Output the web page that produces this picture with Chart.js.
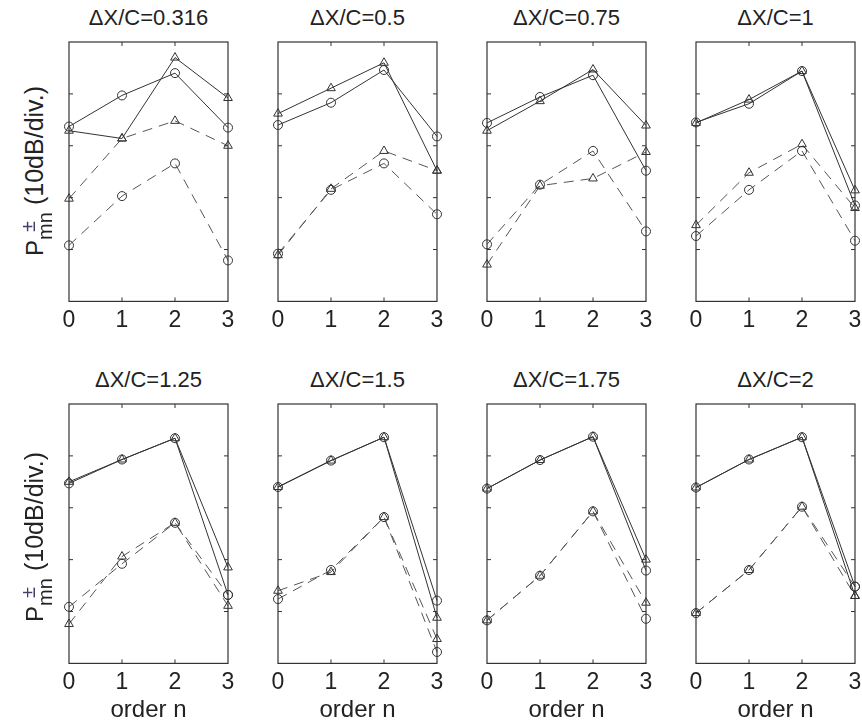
<!DOCTYPE html>
<html>
<head>
<meta charset="utf-8">
<script src="https://cdn.jsdelivr.net/npm/chart.js@4/dist/chart.umd.min.js"></script>
<style>
    body { margin: 0; background: #fff; font-family: "Liberation Sans", Arial, sans-serif; color: #222; }
    #wrap { position: relative; width: 862px; height: 726px; overflow: hidden; }
    canvas { position: absolute; }
    .ttl { position: absolute; width: 200px; text-align: center; font-size: 22px; line-height: 22px; }
    .xl { position: absolute; width: 160px; text-align: center; font-size: 24px; line-height: 24px; }
    .yl { position: absolute; width: 240px; height: 30px; text-align: center; font-size: 25px; line-height: 30px;
          transform: rotate(-90deg); transform-origin: center center; white-space: nowrap; }
    .yl .p { font-size: 24px; }
    .pm { position: relative; display: inline-block; width: 27px; height: 18px; margin-right: 8px; font-size: 20px; line-height: 20px; }
    .pm span { position: absolute; left: 0; right: 0; text-align: center; }
    .pm .pl { top: -7px; color: #4a3a6a; }
    .pm .mn { top: 10px; }
</style>
</head>
<body>
<div id="wrap"></div>

<script>
    var titles = ["\u0394X/C=0.316", "\u0394X/C=0.5", "\u0394X/C=0.75", "\u0394X/C=1",
                  "\u0394X/C=1.25", "\u0394X/C=1.5", "\u0394X/C=1.75", "\u0394X/C=2"];
    var orders = [0, 1, 2, 3];

    // levels in divisions (10 dB each), one row per panel
    var solidCircle = [
        [3.37, 3.97, 4.40, 3.35],
        [3.40, 3.83, 4.46, 3.18],
        [3.44, 3.94, 4.36, 2.52],
        [3.45, 3.81, 4.44, 1.85],
        [3.47, 3.93, 4.34, 1.32],
        [3.40, 3.91, 4.36, 1.21],
        [3.37, 3.92, 4.37, 1.79],
        [3.39, 3.93, 4.36, 1.48]
    ];
    var solidTriangle = [
        [3.29, 3.14, 4.70, 3.92],
        [3.62, 4.11, 4.60, 2.52],
        [3.29, 3.86, 4.47, 3.39],
        [3.44, 3.89, 4.44, 2.14],
        [3.50, 3.93, 4.34, 1.85],
        [3.40, 3.91, 4.36, 0.88],
        [3.37, 3.92, 4.37, 2.00],
        [3.39, 3.93, 4.36, 1.30]
    ];
    var dashedCircle = [
        [1.08, 2.03, 2.66, 0.79],
        [0.92, 2.15, 2.66, 1.68],
        [1.10, 2.25, 2.90, 1.35],
        [1.26, 2.15, 2.90, 1.17],
        [1.09, 1.92, 2.71, 1.32],
        [1.24, 1.80, 2.82, 0.22],
        [0.83, 1.69, 2.93, 0.86],
        [0.97, 1.80, 3.02, 1.48]
    ];
    var dashedTriangle = [
        [1.98, 3.14, 3.48, 3.00],
        [0.89, 2.17, 2.90, 2.52],
        [0.71, 2.23, 2.37, 2.88],
        [1.47, 2.48, 3.03, 1.80],
        [0.76, 2.06, 2.71, 1.11],
        [1.40, 1.76, 2.82, 0.47],
        [0.83, 1.69, 2.93, 1.17],
        [0.97, 1.80, 3.02, 1.30]
    ];
    var yTicks = [1, 2, 3, 4];

    var boxLeft = [69, 278, 487, 696];
    var boxTop = [42, 404];
    var boxW = 159, boxH = 257;
    var padL = 14, padT = 10, axisH = 40;

    var wrap = document.getElementById('wrap');

    // frame plus inward ticks, MATLAB style
    var framePlugin = {
        id: 'frame',
        afterDraw: function (chart) {
            var ctx = chart.ctx, a = chart.chartArea;
            var xs = chart.scales.x, ys = chart.scales.y;
            ctx.save();
            ctx.strokeStyle = '#333';
            ctx.lineWidth = 1.2;
            ctx.strokeRect(a.left, a.top, a.right - a.left, a.bottom - a.top);
            ctx.lineWidth = 1;
            ctx.beginPath();
            yTicks.forEach(function (v) {
                var py = ys.getPixelForValue(v);
                ctx.moveTo(a.left, py); ctx.lineTo(a.left + 4, py);
                ctx.moveTo(a.right, py); ctx.lineTo(a.right - 4, py);
            });
            orders.slice(1, 3).forEach(function (v) {
                var px = xs.getPixelForValue(v);
                ctx.moveTo(px, a.top); ctx.lineTo(px, a.top + 4);
                ctx.moveTo(px, a.bottom); ctx.lineTo(px, a.bottom - 4);
            });
            ctx.stroke();
            ctx.restore();
        }
    };

    function series(vals, style, dashed) {
        return {
            data: vals.map(function (v, i) { return {x: orders[i], y: v}; }),
            borderColor: dashed ? '#555' : '#333',
            borderWidth: 1,
            borderDash: dashed ? [10, 7] : [],
            pointStyle: style,
            pointRadius: style === 'triangle' ? 5 : 4.5,
            pointBorderColor: '#333',
            pointBorderWidth: 1,
            pointBackgroundColor: 'rgba(0,0,0,0)',
            tension: 0,
            clip: false
        };
    }

    function addText(cls, html, left, top) {
        var d = document.createElement('div');
        d.className = cls;
        d.innerHTML = html;
        d.style.left = left + 'px';
        d.style.top = top + 'px';
        wrap.appendChild(d);
    }

    for (var p = 0; p < 8; p++) {
        var row = Math.floor(p / 4), col = p % 4;
        var cv = document.createElement('canvas');
        cv.width = boxW + 2 * padL;
        cv.height = padT + boxH + axisH;
        cv.style.left = (boxLeft[col] - padL) + 'px';
        cv.style.top = (boxTop[row] - padT) + 'px';
        wrap.appendChild(cv);

        new Chart(cv, {
            type: 'line',
            data: {
                datasets: [
                    series(solidCircle[p], 'circle', false),
                    series(solidTriangle[p], 'triangle', false),
                    series(dashedCircle[p], 'circle', true),
                    series(dashedTriangle[p], 'triangle', true)
                ]
            },
            options: {
                responsive: false,
                animation: false,
                layout: {padding: {left: padL, right: padL, top: padT, bottom: 0}},
                plugins: {legend: {display: false}, tooltip: {enabled: false}},
                scales: {
                    x: {
                        type: 'linear', min: 0, max: 3,
                        afterBuildTicks: function (s) { s.ticks = orders.map(function (v) { return {value: v}; }); },
                        ticks: {color: '#222', font: {family: 'Liberation Sans', size: 23}, padding: 5},
                        grid: {display: false, drawTicks: false},
                        border: {display: false}
                    },
                    y: {
                        type: 'linear', min: 0, max: 5, display: false
                    }
                }
            },
            plugins: [framePlugin]
        });

        addText('ttl', titles[p], boxLeft[col] + boxW / 2 - 100, boxTop[row] - 35);
        if (row === 1) {
            addText('xl', 'order n', boxLeft[col] + boxW / 2 - 80, 697);
        }
        if (col === 0) {
            addText('yl', '<span class="p">P</span><span class="pm"><span class="pl">\u00b1</span><span class="mn">mn</span></span>(10dB/div.)',
                    34 - 120, (row ? 537 : 171) - 15);
        }
    }
</script>
</body>
</html>
